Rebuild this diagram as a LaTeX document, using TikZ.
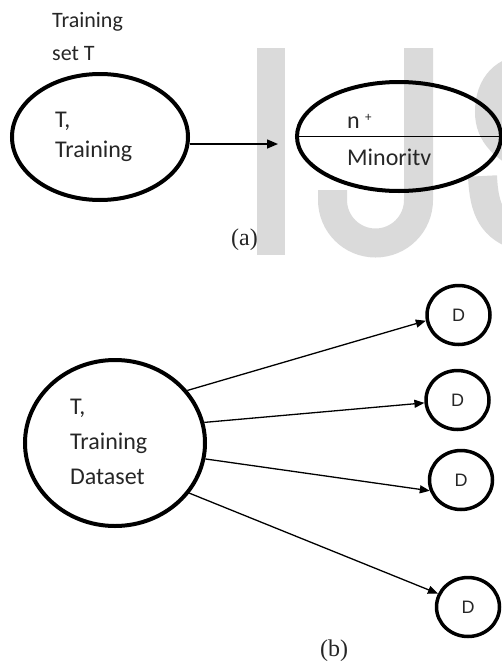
\documentclass[tikz,border=0pt]{standalone}
\usepackage{fontspec}
\setmainfont{Carlito}
\newfontfamily\capfont{Liberation Serif}
\newfontfamily\dfont{Liberation Sans}
\usetikzlibrary{shapes.geometric,arrows.meta}
\definecolor{wmgray}{RGB}{218,218,218}
\definecolor{ink}{RGB}{38,38,38}
\begin{document}
\begin{tikzpicture}[x=1pt,y=-1pt,
  blob/.style={ellipse,draw=black,line width=4pt,inner sep=0pt},
  dnode/.style={ellipse,draw=black,line width=3.5pt,inner sep=0pt,minimum width=63pt,minimum height=59pt,font=\dfont\fontsize{18}{18}\selectfont,text=ink},
  lbl/.style={anchor=base west,inner sep=0pt,text=ink,font=\fontsize{24}{24}\selectfont},
  toplbl/.style={lbl,font=\fontsize{22}{22}\selectfont},
  link/.style={draw=black,line width=1.3pt,-{Triangle[length=10pt,width=8pt]}},
  figcaption/.style={inner sep=0pt,font=\capfont\fontsize{24}{24}\selectfont,text=ink}]
\useasboundingbox (0,0) rectangle (502,664);

% faint background lettering
\begin{scope}
  \clip (0,0) rectangle (502,664);
  \fill[wmgray] (257,48) rectangle (285,255);
  \draw[wmgray,line width=29pt] (418.5,48) -- (418.5,200)
    .. controls (418.5,223.75) and (399.25,243) .. (375.5,243)
    .. controls (351.75,243) and (332.5,223.75) .. (332.5,200) -- (332.5,190);
  \draw[wmgray,line width=29pt] (530,69) .. controls (505,69) and (489.5,85) .. (489.5,112)
    .. controls (489.5,135) and (505,148) .. (530,160);
  \draw[wmgray,line width=29pt] (482.5,176) .. controls (484,210) and (492,228) .. (522,237);
\end{scope}

% (a) training set and minority split
\node[toplbl] (t1) at (52,27) {Training};
\node[toplbl] (t2) at (52,60) {set T};

\node[blob,minimum width=176pt,minimum height=126pt] (e1) at (100,137) {};
\node[lbl] (e1a) at (55,127) {T,};
\node[lbl] (e1b) at (55,157) {Training};

\node[blob,minimum width=204pt,minimum height=109pt] (e2) at (399,136.5) {};
\draw[line width=1.2pt] (e2.west) -- (e2.east);
\node[lbl] (np) at (347,128) {n \raisebox{7pt}{\fontsize{13}{13}\selectfont+}};
\node[lbl] (mn) at (347,165) {Minoritv};

\coordinate (aTip) at (278,144);
\draw[line width=1.5pt,-{Triangle[length=11pt,width=9pt]}] (e1.east |- aTip) -- (aTip);

\node[figcaption] (capA) at (244.5,240) {(a)};

% (b) training dataset split into subsets
\node[blob,minimum width=180pt,minimum height=166pt] (big) at (115,443) {};
\node[lbl] (b1) at (70,414) {T,};
\node[lbl] (b2) at (70,449) {Training};
\node[lbl] (b3) at (70,484) {Dataset};

\node[dnode] (d1) at (458.5,315) {D};
\node[dnode] (d2) at (457.5,400) {D};
\node[dnode] (d3) at (461,480) {D};
\node[dnode] (d4) at (468,607) {D};

\draw[link] (big.36) -- (d1.190);
\draw[link] (big.13) -- (d2.185);
\draw[link] (big.-10) -- (d3.199);
\draw[link] (big.-34) -- (d4.156);

\node[figcaption] (capB) at (334,651) {(b)};
\end{tikzpicture}
\end{document}
